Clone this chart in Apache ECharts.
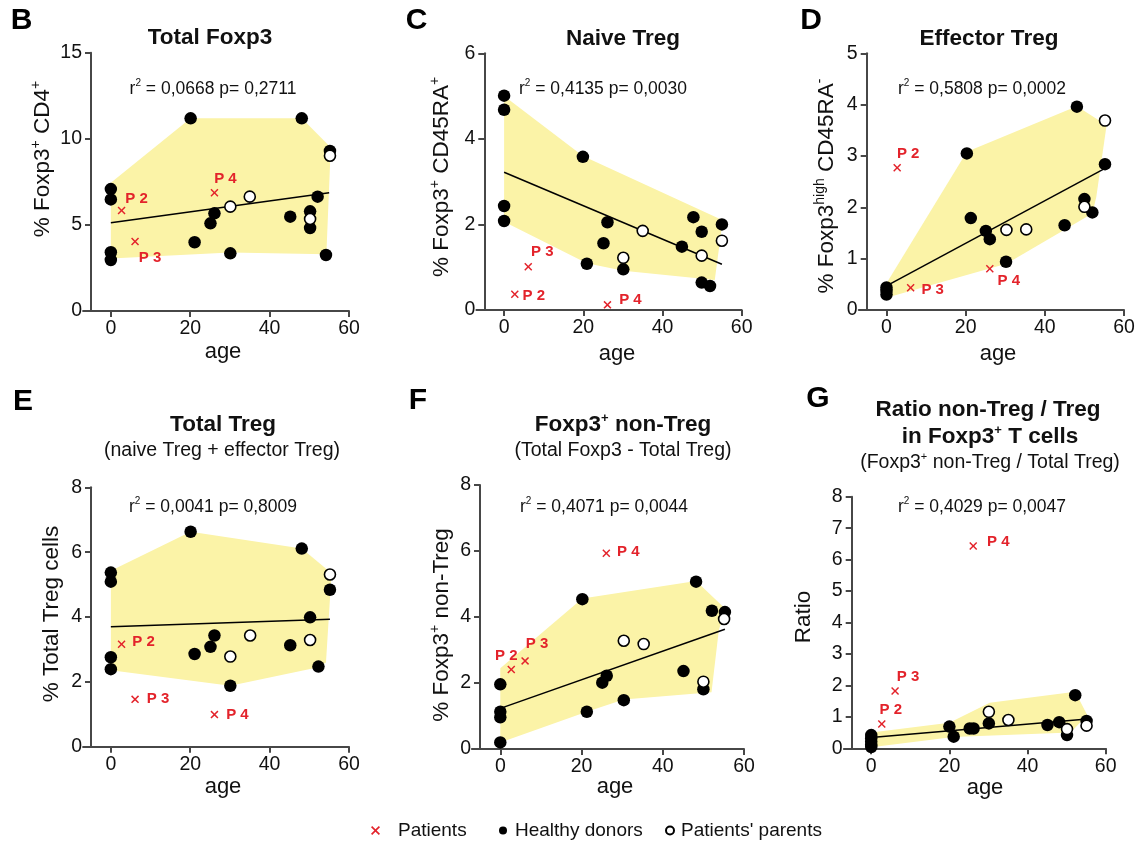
<!DOCTYPE html>
<html>
<head>
<meta charset="utf-8">
<script src="https://cdn.jsdelivr.net/npm/echarts@6/dist/echarts.min.js"></script>
<style>
  html, body { margin: 0; padding: 0; background: #fff; }
  #chart { width: 1138px; height: 844px; }
</style>
</head>
<body>
<div id="chart"></div>
<script>
// ---- data -------------------------------------------------------------
// Patients (same three children in every panel): names and ages
const patientNames = ['P 2', 'P 3', 'P 4'];
const patientAges = [2.7, 6.1, 26.1];

// B  Total Foxp3
const totalFoxp3Donors = [[0, 7.08], [0, 6.48], [0, 3.41], [0, 2.96], [20.1, 11.19], [21.1, 3.99], [25.1, 5.09], [26.1, 5.67], [30.1, 3.35], [45.2, 5.48], [48.1, 11.19], [50.2, 5.79], [50.2, 4.82], [52.1, 6.64], [54.2, 3.25], [55.2, 9.29]];
const totalFoxp3Parents = [[30.1, 6.06], [35, 6.64], [50.2, 5.34], [55.2, 9.02]];
const totalFoxp3Patients = [5.84, 4.04, 6.87];
const totalFoxp3Range = [[0, 7.45], [20.1, 11.2], [48.1, 11.2], [55.4, 9.5], [54.3, 3.3], [30.1, 3.4], [0, 3.05]];
const totalFoxp3Fit = [[0, 5.13], [55, 6.87]];
const totalFoxp3Stats = ['0,0668', '0,2711'];

// C  Naive Treg
const naiveDonors = [[0, 5.01], [0, 4.68], [0, 2.43], [0, 2.08], [19.9, 3.58], [20.9, 1.08], [25.1, 1.56], [26.1, 2.05], [30.1, 0.95], [44.9, 1.48], [47.8, 2.17], [49.9, 1.83], [49.9, 0.64], [52, 0.56], [55, 2.0]];
const naiveParents = [[30.1, 1.22], [35, 1.85], [49.9, 1.27], [55, 1.62]];
const naivePatients = [0.37, 1.01, 0.12];
const naiveRange = [[0, 5.0], [19.9, 3.6], [55.2, 2.1], [53.2, 0.7], [30.1, 0.92], [20.9, 1.09], [0, 2.06]];
const naiveFit = [[0, 3.22], [55, 1.07]];
const naiveStats = ['0,4135', '0,0030'];

// D  Effector Treg
const effectorDonors = [[0, 0.44], [0, 0.37], [0, 0.3], [20.3, 3.05], [21.3, 1.79], [25.1, 1.54], [26.1, 1.38], [30.2, 0.94], [45, 1.65], [48.1, 3.96], [50, 2.16], [52, 1.9], [55.2, 2.84]];
const effectorParents = [[30.3, 1.56], [35.3, 1.57], [50, 2.01], [55.2, 3.69]];
const effectorPatients = [2.77, 0.435, 0.805];
const effectorRange = [[0, 0.52], [20.3, 3.08], [48.1, 3.97], [55.6, 3.6], [53, 2.2], [52, 1.88], [30.3, 0.9], [0, 0.24]];
const effectorFit = [[0, 0.47], [55.2, 2.76]];
const effectorStats = ['0,5808', '0,0002'];

// E  Total Treg
const totalTregDonors = [[0, 5.37], [0, 5.09], [0, 2.76], [0, 2.39], [20.1, 6.63], [21.1, 2.86], [25.1, 3.08], [26.1, 3.43], [30.1, 1.88], [45.2, 3.13], [48.1, 6.11], [50.2, 3.99], [52.3, 2.47], [55.2, 4.84]];
const totalTregParents = [[30.1, 2.78], [35.1, 3.43], [50.2, 3.29], [55.2, 5.31]];
const totalTregPatients = [3.16, 1.46, 0.99];
const totalTregRange = [[0, 5.43], [20.1, 6.63], [48.1, 6.11], [55.6, 5.35], [54.2, 2.6], [52.3, 2.45], [30.1, 1.88], [0, 2.36]];
const totalTregFit = [[0, 3.70], [55.2, 3.93]];
const totalTregStats = ['0,0041', '0,8009'];

// F  Foxp3+ non-Treg
const nonTregDonors = [[0, 1.96], [0, 1.13], [0, 0.96], [0, 0.2], [20.2, 4.54], [21.3, 1.13], [25.1, 2.01], [26.2, 2.22], [30.4, 1.48], [45.1, 2.36], [48.2, 5.07], [50, 1.81], [52.1, 4.19], [55.3, 4.15]];
const nonTregParents = [[30.4, 3.28], [35.3, 3.18], [50, 2.04], [55.1, 3.94]];
const nonTregPatients = [2.41, 2.67, 5.93];
const nonTregRange = [[0, 2.45], [20.2, 4.56], [48.2, 5.09], [55.4, 4.25], [53.8, 3.6], [52, 1.72], [30.4, 1.5], [21.3, 1.13], [0, 0.2]];
const nonTregFit = [[0, 1.23], [55.3, 3.63]];
const nonTregStats = ['0,4071', '0,0044'];

// G  Ratio non-Treg / Treg
const ratioDonors = [[0, 0.42], [0, 0.32], [0, 0.22], [0, 0.12], [0, 0.04], [20, 0.69], [21.1, 0.37], [25.2, 0.63], [26.2, 0.63], [30.1, 0.79], [45.1, 0.74], [48.1, 0.83], [50.1, 0.42], [52.2, 1.69], [55.1, 0.87]];
const ratioParents = [[30.1, 1.16], [35.1, 0.9], [50.1, 0.61], [55.1, 0.72]];
const ratioPatients = [0.77, 1.82, 6.43];
const ratioRange = [[0, 0.5], [20, 0.81], [30.3, 1.45], [52.2, 1.8], [55.3, 1.05], [51, 0.5], [21, 0.36], [0, 0.03]];
const ratioFit = [[0, 0.34], [55.3, 0.93]];
const ratioStats = ['0,4029', '0,0047'];

// axis ranges
const ageTicks = [0, 20, 40, 60];
const yMaxes = [15, 6, 5, 8, 8, 8];
const ySteps = [5, 2, 1, 2, 2, 1];

const seriesNames = ['Patients', 'Healthy donors', "Patients' parents"];

// ---- styling and layout -------------------------------------------------
const FONT = "'Liberation Sans', Arial, Helvetica, sans-serif";
const INK = '#111111';
const RED = '#e3232b';
const AXIS = '#474747';
const BAND = '#fbf3a7';
const CROSS = 'path://M1.3,0L5,3.7L8.7,0L10,1.3L6.3,5L10,8.7L8.7,10L5,6.3L1.3,10L0,8.7L3.7,5L0,1.3Z';

const panels = [
  { donors: totalFoxp3Donors, parents: totalFoxp3Parents, patients: totalFoxp3Patients, band: totalFoxp3Range, fit: totalFoxp3Fit, stats: totalFoxp3Stats,
    letter: 'B', title: ['{t|Total Foxp3}'], yName: '{n|% Foxp3}{ns|+}{n| CD4}{ns|+}' },
  { donors: naiveDonors, parents: naiveParents, patients: naivePatients, band: naiveRange, fit: naiveFit, stats: naiveStats,
    letter: 'C', title: ['{t|Naive Treg}'], yName: '{n|% Foxp3}{ns|+}{n| CD45RA}{ns|+}' },
  { donors: effectorDonors, parents: effectorParents, patients: effectorPatients, band: effectorRange, fit: effectorFit, stats: effectorStats,
    letter: 'D', title: ['{t|Effector Treg}'], yName: '{n|% Foxp3}{ns|high}{n| CD45RA}{ns|-}' },
  { donors: totalTregDonors, parents: totalTregParents, patients: totalTregPatients, band: totalTregRange, fit: totalTregFit, stats: totalTregStats,
    letter: 'E', title: ['{t|Total Treg}', '{s|(naive Treg + effector Treg)}'], yName: '{n|% Total Treg cells}' },
  { donors: nonTregDonors, parents: nonTregParents, patients: nonTregPatients, band: nonTregRange, fit: nonTregFit, stats: nonTregStats,
    letter: 'F', title: ['{t|Foxp3}{ts|+}{t| non-Treg}', '{s|(Total Foxp3 - Total Treg)}'], yName: '{n|% Foxp3}{ns|+}{n| non-Treg}' },
  { donors: ratioDonors, parents: ratioParents, patients: ratioPatients, band: ratioRange, fit: ratioFit, stats: ratioStats,
    letter: 'G', title: ['{t|Ratio non-Treg / Treg}', '{t|in Foxp3}{ts|+}{t| T cells}', '{s|(Foxp3}{ss|+}{s| non-Treg / Total Treg)}'], yName: '{n|Ratio}' }
];

// pixel frame of each plot: y-axis line x, x of age 60, top (y max) and bottom (y = 0)
const frames = [
  { axisX: 91, x60: 349, top: 52.7, bottom: 311 },
  { axisX: 484.3, x60: 741.7, top: 53.3, bottom: 310 },
  { axisX: 866.7, x60: 1124, top: 53.3, bottom: 310 },
  { axisX: 91, x60: 349, top: 487.3, bottom: 746.7 },
  { axisX: 480, x60: 744, top: 485, bottom: 749 },
  { axisX: 851.7, x60: 1105.7, top: 496.7, bottom: 748.3 }
];
const textSpots = [
  { letter: [21.5, 21], title: [[210, 38]], stats: [213, 89], yName: [43, 159], age: [223, 352] },
  { letter: [416.5, 21], title: [[623, 39]], stats: [603, 89], yName: [442, 177], age: [617, 354] },
  { letter: [811, 21], title: [[989, 39]], stats: [982, 89], yName: [827, 186], age: [998, 354] },
  { letter: [23, 402], title: [[223, 425], [222, 451]], stats: [213, 507], yName: [52, 614], age: [223, 787] },
  { letter: [418, 401], title: [[623, 425], [623, 451]], stats: [604, 507], yName: [442, 625], age: [615, 787] },
  { letter: [818, 399], title: [[988, 410], [990, 437], [990, 463]], stats: [982, 507], yName: [804, 617], age: [985, 788] }
];
// offsets (px) of the red patient labels from their marks, order P 2, P 3, P 4
const patientLabelOffsets = [
  [[15, -12], [15, 16], [11, -14]],
  [[19, 2], [14, -15], [23, -5]],
  [[11, -14], [22, 2], [19, 12]],
  [[22, -2], [23, -1], [23, 0]],
  [[-5, -14], [12, -17], [22, -1]],
  [[9, -14], [13, -14], [25, -4]]
];

const rich = {
  t: { fontFamily: FONT, fontSize: 22.5, fontWeight: 'bold', fill: INK, color: INK, lineHeight: 27 },
  ts: { fontFamily: FONT, fontSize: 13, fontWeight: 'bold', fill: INK, color: INK, lineHeight: 12, verticalAlign: 'top' },
  s: { fontFamily: FONT, fontSize: 19.5, fill: INK, color: INK, lineHeight: 24 },
  ss: { fontFamily: FONT, fontSize: 11, fill: INK, color: INK, lineHeight: 11, verticalAlign: 'top' },
  n: { fontFamily: FONT, fontSize: 22.5, fill: INK, color: INK, lineHeight: 27 },
  ns: { fontFamily: FONT, fontSize: 14, fill: INK, color: INK, lineHeight: 12, verticalAlign: 'top' },
  r: { fontFamily: FONT, fontSize: 17.5, fill: INK, color: INK, lineHeight: 22 },
  rs: { fontFamily: FONT, fontSize: 10, fill: INK, color: INK, lineHeight: 10, verticalAlign: 'top' },
  L: { fontFamily: FONT, fontSize: 30, fontWeight: 'bold', fill: '#000', color: '#000', lineHeight: 32 },
  a: { fontFamily: FONT, fontSize: 22, fill: INK, color: INK, lineHeight: 26 }
};

function label(pos, text, rotation) {
  return {
    type: 'text', x: pos[0], y: pos[1], rotation: rotation || 0, silent: true,
    style: { text: text, rich: rich, align: 'center', verticalAlign: 'middle', textAlign: 'center', textVerticalAlign: 'middle' }
  };
}

const grids = [], xAxes = [], yAxes = [], series = [], graphics = [];

panels.forEach((p, i) => {
  const f = frames[i];
  const ppu = (f.x60 - f.axisX) / 65;           // the y axis stands at age -5, the x axis starts at -7
  grids.push({ left: f.axisX - 2 * ppu, top: f.top, width: f.x60 - f.axisX + 2 * ppu, height: f.bottom - f.top });

  const lineStyle = { color: AXIS, width: 2 };
  xAxes.push({
    gridIndex: i, type: 'value', min: -7, max: 60,
    axisLine: { show: true, onZero: false, lineStyle },
    axisTick: { show: true, length: 6, lineStyle, customValues: ageTicks },
    axisLabel: { fontFamily: FONT, fontSize: 19.5, color: INK, margin: 8, customValues: ageTicks },
    splitLine: { show: false }
  });
  yAxes.push({
    gridIndex: i, type: 'value', min: 0, max: yMaxes[i], interval: ySteps[i], offset: -2 * ppu,
    axisLine: { show: true, onZero: false, lineStyle },
    axisTick: { show: true, length: 6, lineStyle },
    axisLabel: { fontFamily: FONT, fontSize: 19.5, color: INK, margin: 9 },
    splitLine: { show: false }
  });

  // shaded range of healthy donors
  series.push({
    type: 'custom', xAxisIndex: i, yAxisIndex: i, silent: true, z: 1,
    data: p.band,
    renderItem: (params, api) => {
      if (params.dataIndex !== 0) return null;
      return { type: 'polygon', shape: { points: p.band.map(pt => api.coord(pt)) }, style: { fill: BAND } };
    }
  });
  // linear regression
  series.push({
    type: 'line', xAxisIndex: i, yAxisIndex: i, data: p.fit, symbol: 'none', silent: true, z: 2,
    lineStyle: { color: '#000', width: 1.5 }
  });
  series.push({
    name: seriesNames[1], type: 'scatter', xAxisIndex: i, yAxisIndex: i, data: p.donors, z: 3,
    symbol: 'circle', symbolSize: 12.5, itemStyle: { color: '#000', opacity: 1 }
  });
  series.push({
    name: seriesNames[2], type: 'scatter', xAxisIndex: i, yAxisIndex: i, data: p.parents, z: 4,
    symbol: 'circle', symbolSize: 11, itemStyle: { color: '#fff', borderColor: '#000', borderWidth: 1.6, opacity: 1 }
  });
  series.push({
    name: seriesNames[0], type: 'scatter', xAxisIndex: i, yAxisIndex: i, z: 5,
    symbol: CROSS, symbolSize: 8, itemStyle: { color: RED, opacity: 1 },
    data: p.patients.map((v, k) => ({
      name: patientNames[k], value: [patientAges[k], v],
      label: { offset: patientLabelOffsets[i][k] }
    })),
    label: {
      show: true, position: 'inside', formatter: '{b}',
      fontFamily: FONT, fontSize: 15, fontWeight: 'bold', color: RED
    }
  });

  const t = textSpots[i];
  graphics.push(label(t.letter, '{L|' + p.letter + '}'));
  p.title.forEach((line, k) => graphics.push(label(t.title[k], line)));
  graphics.push(label(t.stats, '{r|r}{rs|2}{r| = ' + p.stats[0] + ' p= ' + p.stats[1] + '}'));
  graphics.push(label(t.yName, p.yName, Math.PI / 2));
  graphics.push(label(t.age, '{a|age}'));
});

const legendText = { fontFamily: FONT, fontSize: 19, color: INK };
const option = {
  animation: false,
  backgroundColor: '#fff',
  grid: grids,
  xAxis: xAxes,
  yAxis: yAxes,
  series: series,
  graphic: { elements: graphics },
  legend: [
    { data: [seriesNames[0]], left: 366, top: 816, itemWidth: 9, itemHeight: 9, selectedMode: false,
      textStyle: Object.assign({ padding: [0, 0, 0, 13] }, legendText) },
    { data: [seriesNames[1]], left: 494, top: 816, itemWidth: 8, itemHeight: 8, selectedMode: false,
      textStyle: Object.assign({ padding: [0, 0, 0, 3] }, legendText) },
    { data: [seriesNames[2]], left: 660, top: 816, itemWidth: 8, itemHeight: 8, selectedMode: false,
      textStyle: Object.assign({ padding: [0, 0, 0, 2] }, legendText) }
  ]
};

const chart = echarts.init(document.getElementById('chart'), null, { renderer: 'canvas' });
chart.setOption(option);
</script>
</body>
</html>
